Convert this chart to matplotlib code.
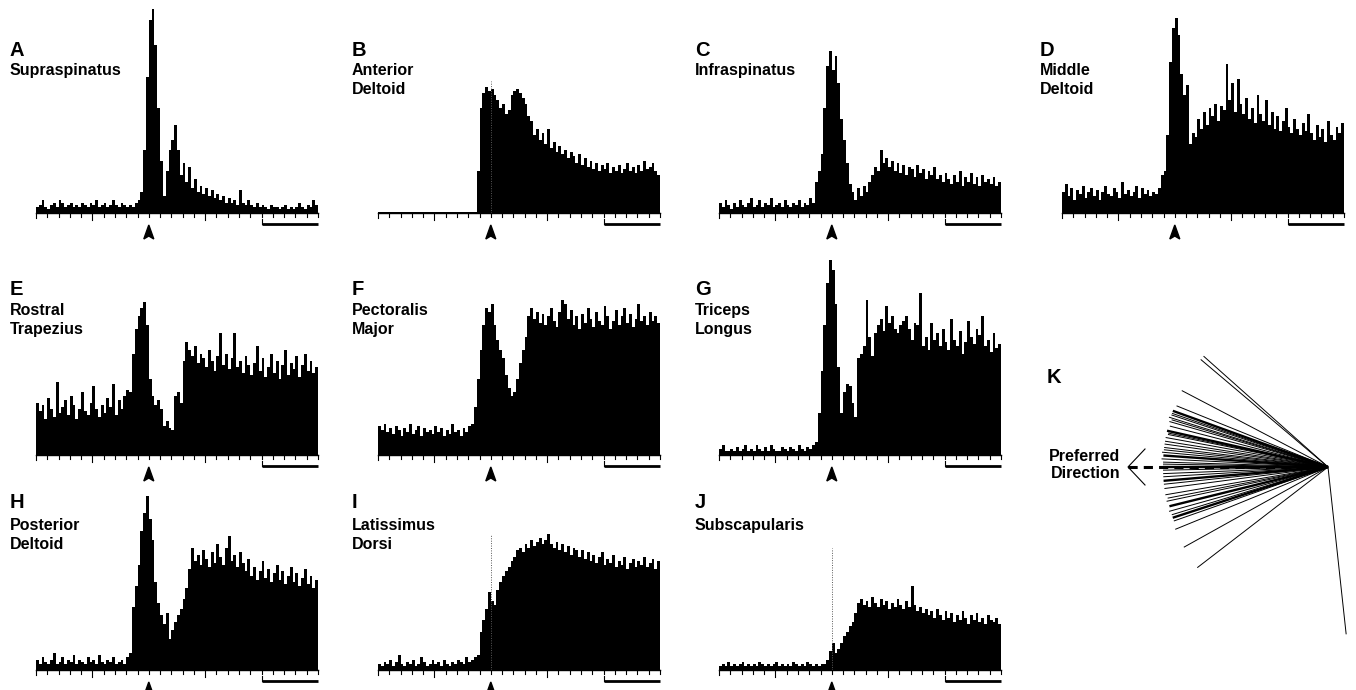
import numpy as np
import matplotlib
matplotlib.use("Agg")
import matplotlib.pyplot as plt
from matplotlib.patches import Polygon

plt.rcParams['font.family'] = ['Liberation Sans', 'DejaVu Sans']

# ---------------- data ----------------
panel_letters = ["A", "B", "C", "D", "E", "F", "G", "H", "I", "J"]
muscle_names = ["Supraspinatus", "Anterior\nDeltoid", "Infraspinatus", "Middle\nDeltoid",
                "Rostral\nTrapezius", "Pectoralis\nMajor", "Triceps\nLongus",
                "Posterior\nDeltoid", "Latissimus\nDorsi", "Subscapularis"]

n_ticks = 25          # tick intervals along each time axis
onset_tick = 10       # movement onset (arrowhead)
scale_bar_ticks = [20, 25]

supraspinatus = [3,4,6,3,2,4,5,3,6,5,3,4,5,3,4,3,5,4,3,5,4,6,3,4,5,3,4,6,4,3,5,4,3,4,3,5,
                 6,10,30,65,92,97,80,50,25,8,20,30,
                 35,42,30,18,24,15,22,12,
                 16,10,13,9,12,8,11,7,9,6,8,5,7,5,6,4,11,5,4,6,
                 4,3,5,3,4,3,2,4,3,3,2,3,4,2,3,2,3,5,3,2,4,3,6,4]
anterior_deltoid = [0.5]*35 + [20,50,57,60,58,59,56,54,50,52,47,49,56,58,59,57,55,52,46,44,
                    37,40,35,38,33,40,31,34,29,32,28,30,26,29,27,24,28,23,26,22,
                    25,21,24,20,23,21,24,19,22,20,23,19,21,24,20,22,19,23,20,25,
                    21,22,24,20,18]
infraspinatus = [5,3,6,4,2,5,3,6,4,3,5,7,3,4,6,3,5,4,7,3,4,5,3,6,4,3,5,4,6,3,5,4,7,5,
                 15,20,28,50,70,77,68,75,62,45,35,24,14,10,6,12,8,13,10,15,
                 18,22,20,30,24,26,22,25,20,24,19,23,18,22,21,17,23,19,21,16,
                 20,18,22,16,18,15,19,16,14,18,15,20,13,17,15,19,14,17,13,18,
                 15,16,14,17,13,15]
middle_deltoid = [10,14,8,12,6,11,9,13,7,10,12,8,11,6,10,13,9,8,12,10,7,15,9,11,8,10,13,7,12,9,11,8,10,9,
                  12,18,20,37,72,88,93,85,66,56,61,33,38,36,45,40,48,42,50,46,
                  52,44,51,49,71,54,62,48,64,52,47,55,45,50,43,56,47,44,54,42,
                  48,40,46,39,44,50,41,38,45,40,37,43,39,47,38,35,42,36,40,34,
                  44,37,35,41,38,43]
rostral_trapezius = [25,21,24,17,27,22,18,35,20,23,26,19,28,24,17,22,30,21,19,25,33,22,18,24,20,27,23,34,19,26,22,28,31,
                     30,48,60,66,70,73,62,36,28,24,26,22,14,16,13,12,28,30,25,45,
                     54,50,47,52,44,48,46,42,50,45,40,47,58,43,48,41,46,58,42,45,
                     39,47,43,38,44,52,40,46,37,42,48,39,45,36,43,50,38,44,41,47,
                     37,43,48,40,45,39,42]
pectoralis_major = [14,12,15,11,13,10,14,12,9,13,11,15,10,12,14,9,13,11,12,10,14,11,13,9,12,10,15,11,12,9,13,11,14,15,
                    23,36,50,62,70,68,72,62,55,50,46,38,32,28,30,36,44,50,56,66,
                    70,65,68,63,67,62,66,70,64,61,68,74,72,65,69,62,66,60,67,63,
                    70,65,61,68,64,62,71,66,60,64,69,62,66,70,63,67,61,65,72,64,
                    66,62,68,64,66,63]
triceps_longus = [3,5,2,2,3,2,4,2,3,5,2,3,2,5,3,2,4,2,5,3,2,2,4,3,2,4,3,2,5,3,2,4,3,5,
                  6,20,40,62,82,93,88,72,42,20,30,34,33,25,18,46,48,52,74,56,
                  47,58,62,65,59,71,63,66,60,58,62,64,66,60,55,63,62,77,52,56,
                  50,63,55,58,52,60,54,50,65,55,52,59,48,54,64,56,53,60,57,66,
                  52,55,49,58,51,53]
posterior_deltoid = [5,3,6,4,3,5,8,3,4,6,3,5,4,7,3,5,4,3,6,4,5,3,7,4,3,5,4,6,3,4,5,3,6,
                     8,30,40,50,66,75,83,72,62,42,32,26,22,27,15,19,23,26,29,34,
                     39,48,58,52,55,50,57,53,49,56,51,60,54,50,58,64,52,55,49,56,
                     51,47,53,45,49,43,47,52,44,48,42,46,50,43,47,41,45,49,42,46,
                     40,44,48,41,45,39,43]
latissimus_dorsi = [3,2,4,3,5,2,4,7,3,2,4,3,5,2,3,6,4,2,3,5,3,4,2,5,3,2,4,3,5,4,3,6,4,5,6,
                    7,18,24,29,37,33,31,38,42,45,47,49,52,54,57,58,56,60,58,62,
                    59,61,63,60,62,65,60,58,61,57,60,56,59,55,58,57,54,57,53,56,
                    52,55,51,54,56,50,53,51,55,49,52,50,54,48,51,53,49,52,50,54,
                    49,51,53,48,52]
subscapularis = [2,3,2,4,2,3,2,3,4,2,3,2,3,2,4,3,2,3,2,3,4,2,3,2,3,2,4,3,2,3,2,4,3,2,3,2,3,
                 3,5,9,13,8,10,13,16,18,21,23,27,32,34,31,33,30,35,32,30,
                 34,31,33,29,32,30,34,31,29,33,30,40,31,28,30,27,29,26,28,25,
                 29,26,24,28,25,27,23,26,24,28,25,22,26,24,27,23,25,22,26,24,
                 23,25,22]
histograms = [supraspinatus, anterior_deltoid, infraspinatus, middle_deltoid,
              rostral_trapezius, pectoralis_major, triceps_longus,
              posterior_deltoid, latissimus_dorsi, subscapularis]
# onset markers (dotted lines) : panel index -> height
onset_dotted = {1: 63, 8: 65, 9: 58}

# Panel K: preferred directions (degrees) and relative vector lengths
pd_angles = [138.3, 139.8, 152.4, 158.0, 160.1, 161.0, 161.6, 162.6, 163.2, 164.0, 165.5,
             167.3, 168.0, 168.5, 169.7, 171.0, 172.0, 173.2, 174.0, 174.9, 176.0, 177.2,
             178.3, 179.0, 180.0, 181.1, 182.3, 183.4, 184.8, 186.0, 187.5, 189.7, 191.0,
             192.0, 193.9, 195.6, 197.0, 198.1, 199.3, 202.2, 209.1, 217.6, 276.2]
pd_lengths = [1.01, 1.01, 1.0, 0.99, 1.0, 1.0, 1.0, 1.01, 0.99, 1.0, 0.99,
              1.0, 0.99, 0.99, 1.0, 1.0, 1.0, 1.0, 1.0, 1.01, 1.0, 1.01,
              1.0, 1.0, 1.0, 1.0, 1.0, 1.0, 1.0, 1.0, 1.0, 1.0, 0.99,
              1.0, 0.99, 1.0, 0.99, 0.99, 0.99, 1.0, 1.0, 1.0, 1.02]
pd_thick = [160.1, 167.3, 180.0, 184.8, 193.9, 198.1, 176.0]

# ---------------- layout ----------------
W, H = 1356, 690
fig = plt.figure(figsize=(W / 100, H / 100), dpi=100)

def px_axes(left, top, width, height):
    return fig.add_axes([left / W, 1 - (top + height) / H, width / W, height / H])

col_left = [36, 378, 719, 1062]
text_left = [10, 352, 695, 1040]
row_base = [213, 455, 670]
letter_base = [56, 295, 508]
name_base = [75, 315, 530]
line_gap = 19
slots = [(0, 0), (0, 1), (0, 2), (0, 3), (1, 0), (1, 1), (1, 2), (2, 0), (2, 1), (2, 2)]

AX_W, AX_H = 282, 210
ux = n_ticks / AX_W      # data units per px (x)
uy = 100 / AX_H          # data units per px (y)

for i, vals in enumerate(histograms):
    r, c = slots[i]
    ax = px_axes(col_left[c], row_base[r] - AX_H, AX_W, AX_H)
    ax.set_xlim(0, n_ticks)
    ax.set_ylim(0, 100)
    ax.axis("off")
    edges = np.linspace(0, n_ticks, len(vals) + 1)
    ax.stairs(vals, edges, fill=True, color="black", linewidth=0)
    # axis line
    ax.plot([0, n_ticks], [0, 0], color="black", lw=1.0, clip_on=False)
    for t in range(n_ticks + 1):
        ln = 7 if t in (5, 15) else (5 if t == 0 else 3.5)
        ax.plot([t, t], [0, -ln * uy], color="black", lw=0.8, clip_on=False)
    # scale bar
    sb0, sb1 = scale_bar_ticks
    ax.plot([sb0, sb1], [-11 * uy, -11 * uy], color="black", lw=2.0, clip_on=False,
            solid_capstyle="butt")
    ax.plot([sb0, sb0], [-11 * uy, -6 * uy], color="black", lw=0.8, clip_on=False)
    # onset arrowhead (slightly concave base)
    tri = Polygon([[onset_tick, -12 * uy], [onset_tick - 5 * ux, -26 * uy],
                   [onset_tick, -23 * uy], [onset_tick + 5 * ux, -26 * uy]],
                  closed=True, color="black", clip_on=False)
    ax.add_patch(tri)
    if i in onset_dotted:
        ax.plot([onset_tick, onset_tick], [0, onset_dotted[i]], color="0.35", lw=0.7,
                linestyle=(0, (1, 1.5)))
    # labels
    fig.text(text_left[c] / W, 1 - letter_base[r] / H, panel_letters[i], fontsize=14.5,
             fontweight="bold", va="baseline", ha="left")
    for k, line in enumerate(muscle_names[i].split("\n")):
        fig.text(text_left[c] / W, 1 - (name_base[r] + k * line_gap) / H, line,
                 fontsize=11.5, fontweight="bold", va="baseline", ha="left")

# ---------------- panel K ----------------
cx, cy = 1328, 467
kl, kt, kw, kh = 1100, 330, 256, 340
axk = px_axes(kl, kt, kw, kh)
axk.set_xlim(-(cx - kl), kl + kw - cx)
axk.set_ylim(-(kt + kh - cy), cy - kt)
axk.axis("off")
R = 165
for ang, L in zip(pd_angles, pd_lengths):
    a = np.deg2rad(ang)
    lw = 1.7 if ang in pd_thick else 0.7
    axk.plot([0, R * L * np.cos(a)], [0, R * L * np.sin(a)], color="black", lw=lw,
             solid_capstyle="butt")
# preferred direction arrow
tip = -200
axk.plot([tip, -20], [0, 0], color="black", lw=2.2, linestyle=(0, (3, 2)))
axk.plot([tip + 17, tip, tip + 17], [18, 0, -18], color="black", lw=0.8)

fig.text(1047 / W, 1 - 383 / H, "K", fontsize=14.5, fontweight="bold", va="baseline")
fig.text(1120 / W, 1 - 461 / H, "Preferred", fontsize=11.5, fontweight="bold",
         va="baseline", ha="right")
fig.text(1120 / W, 1 - 478 / H, "Direction", fontsize=11.5, fontweight="bold",
         va="baseline", ha="right")

fig.savefig("out.png", dpi=100, facecolor="white")
